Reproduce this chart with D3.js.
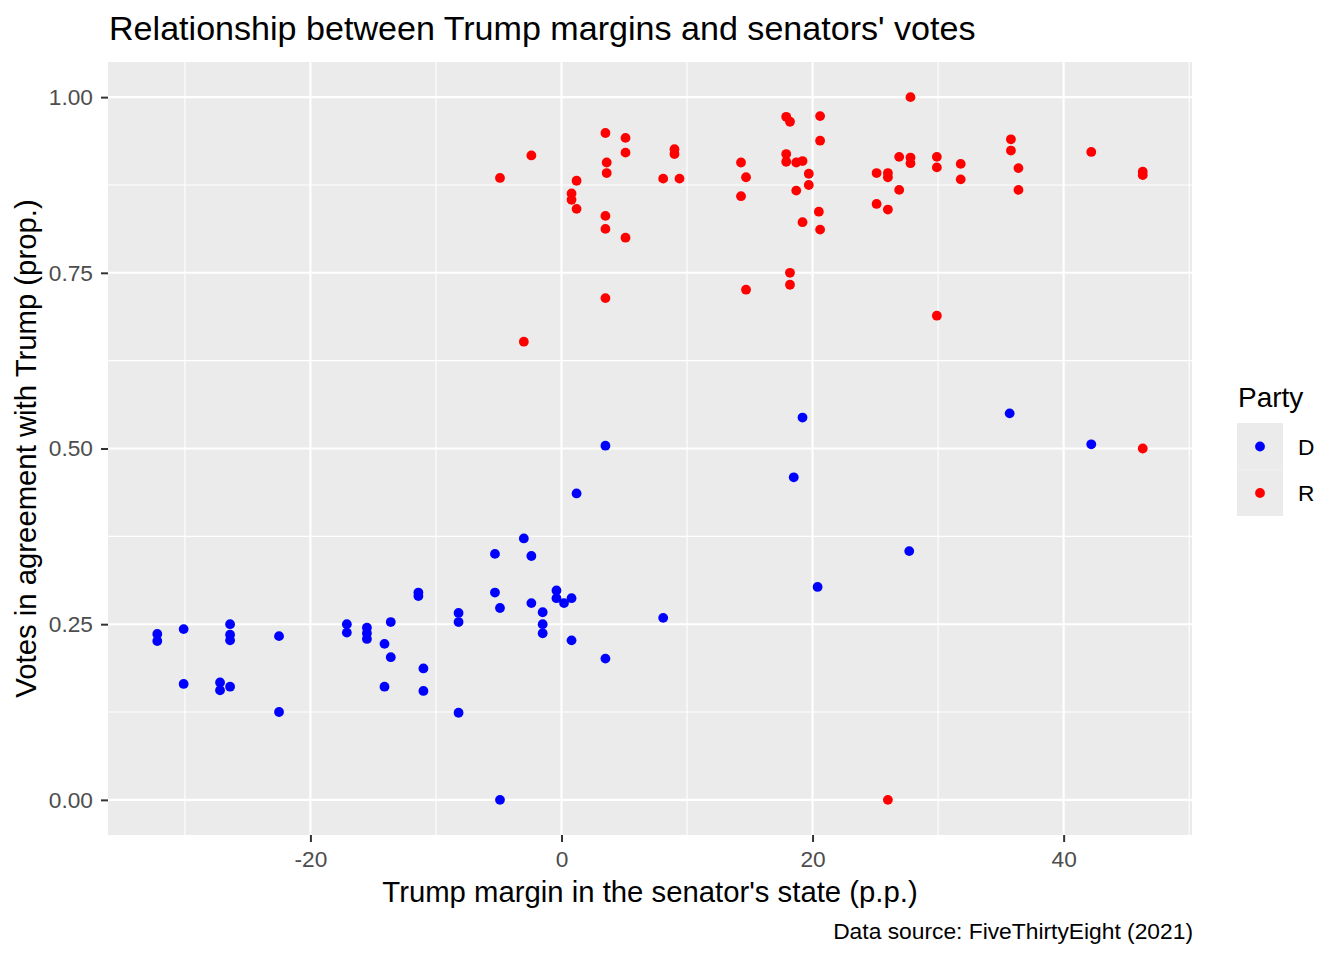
<!DOCTYPE html>
<html>
<head>
<meta charset="utf-8">
<script src="https://cdn.jsdelivr.net/npm/d3@7"></script>
<style>
  body { margin: 0; background: #fff; }
  svg { display: block; font-family: "Liberation Sans", Arial, sans-serif; }
</style>
</head>
<body>
<svg width="1344" height="960"></svg>
<script>
// Trump margin (p.p.) and share of votes agreeing with Trump, by party
var demMargin = [-32.2, -32.2, -30.1, -30.1, -27.2, -27.2, -26.4, -26.4, -26.4, -26.4,
    -22.5, -22.5, -17.1, -17.1, -15.5, -15.5, -15.5, -13.6, -14.1, -13.6,
    -14.1, -11.4, -11.4, -11.0, -11.0, -8.2, -8.2, -8.2, -5.3, -5.3,
    -4.9, -4.9, -3.0, -2.4, -2.4, -1.5, -1.5, -1.5, -0.4, -0.4,
    0.2, 0.8, 0.8, 1.2, 3.5, 3.5, 8.1, 18.5, 19.2, 20.4,
    27.7, 35.7, 42.2];
var demScore = [0.236, 0.226, 0.243, 0.165, 0.167, 0.156, 0.250, 0.235, 0.227, 0.161,
    0.233, 0.125, 0.250, 0.238, 0.245, 0.237, 0.229, 0.253, 0.222, 0.203,
    0.161, 0.295, 0.290, 0.187, 0.155, 0.266, 0.253, 0.124, 0.350, 0.295,
    0.273, 0.000, 0.372, 0.347, 0.280, 0.267, 0.250, 0.237, 0.298, 0.287,
    0.280, 0.287, 0.227, 0.436, 0.504, 0.201, 0.259, 0.459, 0.544, 0.303,
    0.354, 0.550, 0.506];

var repMargin = [-4.9, -2.4, -3.0, 0.8, 0.8, 1.2, 1.2, 3.5, 3.6, 3.6,
    3.5, 3.5, 3.5, 5.1, 5.1, 5.1, 8.1, 9.0, 9.0, 9.4,
    14.3, 14.3, 14.7, 14.7, 17.9, 17.9, 17.9, 18.2, 18.2, 18.2,
    18.7, 18.7, 19.2, 19.2, 19.7, 19.7, 20.5, 20.6, 20.6, 20.6,
    25.1, 25.1, 26.0, 26.0, 26.0, 26.0, 26.9, 26.9, 27.8, 27.8,
    27.8, 29.9, 29.9, 29.9, 31.8, 31.8, 35.8, 35.8, 36.4, 36.4,
    42.2, 46.3, 46.3, 46.3];
var repScore = [0.885, 0.917, 0.652, 0.863, 0.854, 0.881, 0.841, 0.949, 0.907, 0.892,
    0.831, 0.8125, 0.714, 0.942, 0.921, 0.800, 0.884, 0.926, 0.919, 0.884,
    0.907, 0.859, 0.886, 0.726, 0.972, 0.919, 0.908, 0.965, 0.750, 0.733,
    0.907, 0.867, 0.909, 0.822, 0.891, 0.875, 0.837, 0.973, 0.938, 0.8115,
    0.892, 0.848, 0.892, 0.886, 0.840, 0.000, 0.915, 0.868, 1.000, 0.914,
    0.906, 0.915, 0.900, 0.689, 0.905, 0.883, 0.940, 0.924, 0.899, 0.868,
    0.922, 0.894, 0.889, 0.500];

var parties = ["D", "R"];
var partyColors = ["#0000ff", "#ff0000"];

var xTicks = [-20, 0, 20, 40];
var xTickLabels = ["-20", "0", "20", "40"];
var xMinor = [-30, -10, 10, 30, 50];
var yTicks = [0, 0.25, 0.5, 0.75, 1];
var yTickLabels = ["0.00", "0.25", "0.50", "0.75", "1.00"];
var yMinor = [0.125, 0.375, 0.625, 0.875];

var svg = d3.select("svg"),
    panel = {left: 108, right: 1192, top: 62, bottom: 835};

var data = [];
demMargin.forEach(function (m, i) { data.push({margin: m, score: demScore[i], party: "D"}); });
repMargin.forEach(function (m, i) { data.push({margin: m, score: repScore[i], party: "R"}); });

// ggplot style 5% expansion
function expand(ext) {
    var pad = (ext[1] - ext[0]) * 0.05;
    return [ext[0] - pad, ext[1] + pad];
}

var x = d3.scaleLinear()
    .domain(expand(d3.extent(data, function (d) { return d.margin; })))
    .range([panel.left, panel.right]);

var y = d3.scaleLinear()
    .domain(expand(d3.extent(data, function (d) { return d.score; })))
    .range([panel.bottom, panel.top]);

var color = d3.scaleOrdinal().domain(parties).range(partyColors);

svg.append("rect")
    .attr("x", panel.left)
    .attr("y", panel.top)
    .attr("width", panel.right - panel.left)
    .attr("height", panel.bottom - panel.top)
    .attr("fill", "#ebebeb");

var grid = svg.append("g").attr("stroke", "#fff");

grid.selectAll(".xminor").data(xMinor.filter(function (d) { return x(d) < panel.right; }))
    .enter().append("line")
    .attr("x1", x).attr("x2", x)
    .attr("y1", panel.top).attr("y2", panel.bottom)
    .attr("stroke-width", 1.1);

grid.selectAll(".yminor").data(yMinor)
    .enter().append("line")
    .attr("x1", panel.left).attr("x2", panel.right)
    .attr("y1", y).attr("y2", y)
    .attr("stroke-width", 1.1);

grid.selectAll(".xmajor").data(xTicks)
    .enter().append("line")
    .attr("x1", x).attr("x2", x)
    .attr("y1", panel.top).attr("y2", panel.bottom)
    .attr("stroke-width", 2.1);

grid.selectAll(".ymajor").data(yTicks)
    .enter().append("line")
    .attr("x1", panel.left).attr("x2", panel.right)
    .attr("y1", y).attr("y2", y)
    .attr("stroke-width", 2.1);

svg.append("g")
    .selectAll("circle")
    .data(data)
    .enter().append("circle")
    .attr("cx", function (d) { return x(d.margin); })
    .attr("cy", function (d) { return y(d.score); })
    .attr("r", 4.9)
    .attr("fill", function (d) { return color(d.party); });

// axes
var xAxis = svg.append("g")
    .attr("transform", "translate(0," + panel.bottom + ")")
    .call(d3.axisBottom(x)
        .tickValues(xTicks)
        .tickFormat(function (d, i) { return xTickLabels[i]; })
        .tickSize(7)
        .tickPadding(9));

var yAxis = svg.append("g")
    .attr("transform", "translate(" + panel.left + ",0)")
    .call(d3.axisLeft(y)
        .tickValues(yTicks)
        .tickFormat(function (d, i) { return yTickLabels[i]; })
        .tickSize(7)
        .tickPadding(8));

[xAxis, yAxis].forEach(function (a) {
    a.select(".domain").remove();
    a.selectAll(".tick line").attr("stroke", "#333333").attr("stroke-width", 2);
    a.selectAll(".tick text")
        .attr("fill", "#4d4d4d")
        .style("font-size", "22.7px")
        .style("font-family", "'Liberation Sans', Arial, sans-serif");
});

svg.append("text")
    .attr("x", 109)
    .attr("y", 40)
    .attr("font-size", 34.1)
    .attr("fill", "#000")
    .text("Relationship between Trump margins and senators' votes");

svg.append("text")
    .attr("x", (panel.left + panel.right) / 2)
    .attr("y", 902)
    .attr("text-anchor", "middle")
    .attr("font-size", 29.3)
    .text("Trump margin in the senator's state (p.p.)");

svg.append("text")
    .attr("transform", "translate(36," + (panel.top + panel.bottom) / 2 + ") rotate(-90)")
    .attr("text-anchor", "middle")
    .attr("font-size", 29.3)
    .text("Votes in agreement with Trump (prop.)");

svg.append("text")
    .attr("x", 1193)
    .attr("y", 939)
    .attr("text-anchor", "end")
    .attr("font-size", 22.8)
    .text("Data source: FiveThirtyEight (2021)");

// legend
var legend = svg.append("g").attr("transform", "translate(1237,423)");

legend.append("text")
    .attr("x", 1)
    .attr("y", -16)
    .attr("font-size", 28)
    .text("Party");

var key = legend.selectAll(".key")
    .data(parties)
    .enter().append("g")
    .attr("transform", function (d, i) { return "translate(0," + i * 46.5 + ")"; });

key.append("rect")
    .attr("width", 46)
    .attr("height", 46.5)
    .attr("fill", "#ebebeb");

key.append("circle")
    .attr("cx", 23)
    .attr("cy", 23.5)
    .attr("r", 4.9)
    .attr("fill", function (d) { return color(d); });

key.append("text")
    .attr("x", 61)
    .attr("y", 23.5)
    .attr("dy", "0.36em")
    .attr("font-size", 22.7)
    .text(function (d) { return d; });
</script>
</body>
</html>
